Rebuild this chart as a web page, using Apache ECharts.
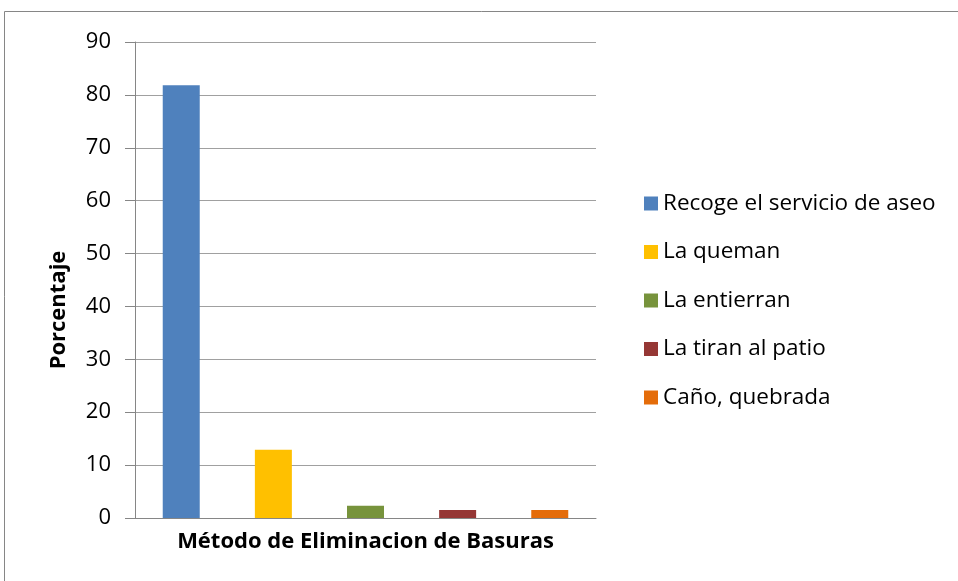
<!DOCTYPE html>
<html>
<head>
<meta charset="utf-8">
<script src="https://cdn.jsdelivr.net/npm/echarts@6/dist/echarts.min.js"></script>
<style>
    html, body { margin: 0; padding: 0; background: #fff; }
    #chart { width: 958px; height: 581px; }
</style>
</head>
<body>
<div id="chart"></div>
<script>
// datos
const seriesNames = ['Recoge el servicio de aseo', 'La queman', 'La entierran', 'La tiran al patio', 'Caño, quebrada']
const seriesValues = [81.8, 12.9, 2.3, 1.5, 1.5]
const seriesColors = ['#4F81BD', '#FFC000', '#77933C', '#953735', '#E46C0A']
const categories = ['']
const yTicks = { min: 0, max: 90, interval: 10 }

const font = "'Open Sans', 'Noto Sans', sans-serif"

let chart = echarts.init(document.getElementById('chart'))

let series = seriesNames.map((name, i) => {
    return {
        name: name,
        type: 'bar',
        data: [seriesValues[i]],
        barWidth: 37,
        barGap: '149%',
        itemStyle: { color: seriesColors[i] }
    }
})

chart.setOption({
    animation: false,
    graphic: [
        {
            type: 'rect',
            shape: { x: 4.5, y: 11.5, width: 1000, height: 1000 },
            style: { fill: 'none', stroke: '#868686', lineWidth: 1 },
            silent: true
        }
    ],
    grid: {
        left: 135,
        right: 362,
        top: 42,
        bottom: 63
    },
    legend: {
        orient: 'vertical',
        left: 639,
        top: 187,
        itemWidth: 14,
        itemHeight: 14,
        itemGap: 25.5,
        icon: 'rect',
        textStyle: { fontFamily: font, fontSize: 22.5, color: '#000' }
    },
    xAxis: {
        type: 'category',
        data: categories,
        name: 'Método de Eliminacion de Basuras',
        nameLocation: 'middle',
        nameGap: 13,
        nameTextStyle: { fontFamily: font, fontSize: 22, fontWeight: 'bold', color: '#000' },
        axisLine: { lineStyle: { color: '#868686' } },
        axisTick: { show: false },
        axisLabel: { show: false }
    },
    yAxis: {
        type: 'value',
        min: yTicks.min,
        max: yTicks.max,
        interval: yTicks.interval,
        name: 'Porcentaje',
        nameLocation: 'middle',
        nameRotate: 90,
        nameGap: 65,
        nameTextStyle: { fontFamily: font, fontSize: 22, fontWeight: 'bold', color: '#000', padding: [0, 60, 0, 0] },
        axisLine: { show: true, lineStyle: { color: '#868686' } },
        axisTick: { show: true, length: 10, lineStyle: { color: '#868686' } },
        axisLabel: { margin: 24, fontFamily: font, fontSize: 22, color: '#000' },
        splitLine: { lineStyle: { color: '#A0A0A0' } }
    },
    series: series
})
</script>
</body>
</html>
